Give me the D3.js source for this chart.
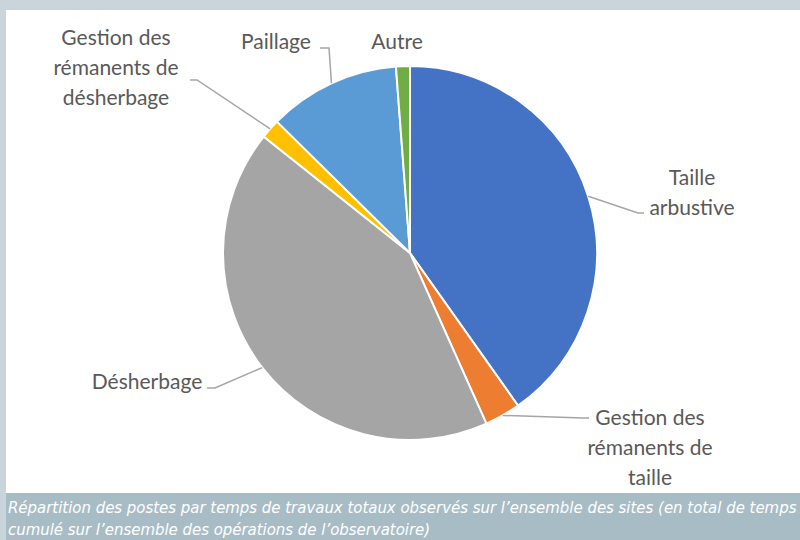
<!DOCTYPE html>
<meta charset="utf-8">
<script src="https://d3js.org/d3.v7.min.js"></script>
<style>
    body { margin: 0; background: #c9d4db; }
    svg { display: block; }
</style>
<body>
<script>
    // Data (share of total observed work time, %)
    var categories = ["Taille arbustive", "Gestion des rémanents de taille", "Désherbage",
                      "Gestion des rémanents de désherbage", "Paillage", "Autre"];
    var values = [40.2, 3.1, 42.4, 1.7, 11.4, 1.2];
    var labelLines = [["Taille", "arbustive"], ["Gestion des", "rémanents de", "taille"],
                      ["Désherbage"], ["Gestion des", "rémanents de", "désherbage"],
                      ["Paillage"], ["Autre"]];
    var captionLines = ["Répartition des postes par temps de travaux totaux observés sur l’ensemble des sites (en total de temps",
                        "cumulé sur l’ensemble des opérations de l’observatoire)"];

    var colors = d3.scaleOrdinal()
        .domain(categories)
        .range(["#4472c4", "#ed7d31", "#a5a5a5", "#ffc000", "#5b9bd5", "#70ad47"]);

    // SVG dimensions
    var SVGWidth = 800, SVGHeight = 540;
    var cx = 410, cy = 253, radius = 187;

    // label placement: text centre x, first line y, leader path after the slice edge
    var labelLayout = [
        {x: 692, y: 178, leader: [[638, 213], [644, 213]]},
        {x: 650, y: 418, leader: [[583, 418], [589, 418]]},
        {x: 147, y: 382, leader: [[215, 388], [207, 388]]},
        {x: 116, y: 38,  leader: [[197, 80], [190, 80]]},
        {x: 276, y: 42,  leader: [[329, 48], [320, 48]]},
        {x: 397, y: 42,  leader: null}
    ];

    var svg = d3.select("body").append("svg")
        .attr("width", SVGWidth)
        .attr("height", SVGHeight);

    // frame: white panel and caption band
    svg.append("rect").attr("x", 0).attr("y", 0).attr("width", SVGWidth).attr("height", SVGHeight).attr("fill", "#c9d4db");
    svg.append("rect").attr("x", 6).attr("y", 10).attr("width", SVGWidth - 6).attr("height", 483).attr("fill", "#ffffff");
    svg.append("rect").attr("x", 6).attr("y", 493).attr("width", SVGWidth - 6).attr("height", 47).attr("fill", "#a8bcc6");

    svg.selectAll(".caption")
        .data(captionLines)
        .enter()
        .append("text")
        .attr("class", "caption")
        .attr("x", 8)
        .attr("y", function(d, i) { return 513 + i * 22; })
        .style("font", "italic 16.6px 'DejaVu Sans Condensed', 'DejaVu Sans'")
        .attr("fill", "#ffffff")
        .text(function(d) { return d; });

    // Pie
    var pie = d3.pie().sort(null).value(function(d) { return d; });
    var arc = d3.arc().innerRadius(0).outerRadius(radius);
    var arcs = pie(values);

    var g = svg.append("g").attr("transform", "translate(" + cx + "," + cy + ")");

    g.selectAll("path.slice")
        .data(arcs)
        .enter()
        .append("path")
        .attr("class", "slice")
        .attr("d", arc)
        .attr("fill", function(d, i) { return colors(categories[i]); })
        .attr("stroke", "#ffffff")
        .attr("stroke-width", 2);

    // leader lines start on the slice edge at its mid angle
    function edgePoint(d) {
        var a = (d.startAngle + d.endAngle) / 2;
        return [cx + radius * Math.sin(a), cy - radius * Math.cos(a)];
    }

    arcs.forEach(function(d, i) {
        var lay = labelLayout[i];
        if (lay.leader) {
            var pts = [edgePoint(d)].concat(lay.leader);
            svg.append("path")
                .attr("d", d3.line()(pts))
                .attr("fill", "none")
                .attr("stroke", "#a6a6a6")
                .attr("stroke-width", 1.5);
        }
        var t = svg.append("text")
            .attr("text-anchor", "middle")
            .attr("fill", "#595959")
            .style("font", "21px Lato, 'Open Sans', sans-serif");
        labelLines[i].forEach(function(line, j) {
            t.append("tspan")
                .attr("x", lay.x)
                .attr("y", lay.y + j * 30)
                .attr("dy", "0.35em")
                .text(line);
        });
    });
</script>
</body>
